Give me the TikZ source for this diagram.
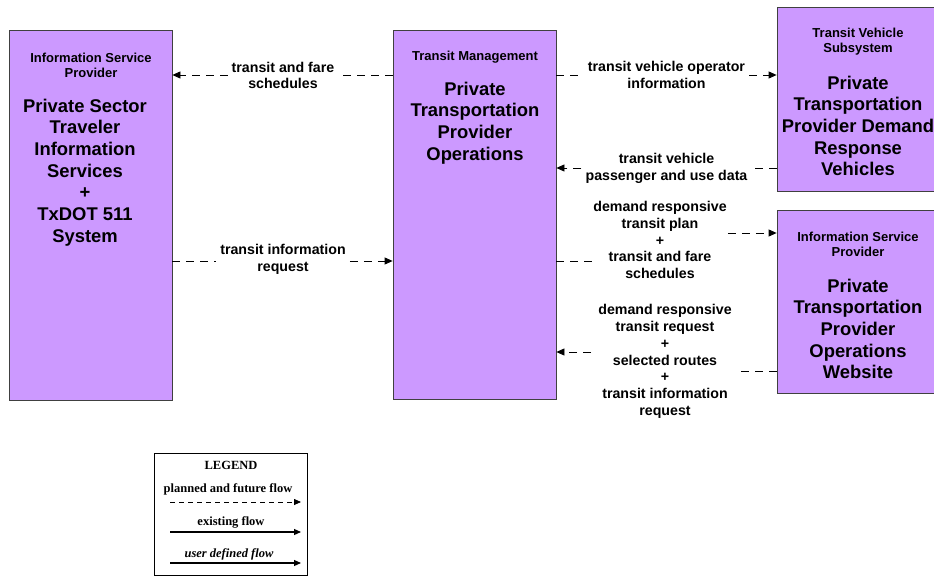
\documentclass[tikz,border=0pt]{standalone}
\usepackage{fontspec}
\setmainfont{Liberation Sans}
\newfontfamily\legfont{Liberation Serif}
\usetikzlibrary{arrows.meta}
\definecolor{boxfill}{RGB}{204,153,255}
\begin{document}
\begin{tikzpicture}[x=1pt,y=-1pt,
  box/.style={draw=black!75, fill=boxfill, line width=0.8pt, minimum width=163pt, inner sep=0pt},
  head/.style={font=\fontsize{13}{15}\selectfont\bfseries, align=center, inner sep=0pt},
  ttl/.style={font=\fontsize{18.4}{21.7}\selectfont\bfseries, align=center, inner sep=0pt},
  lab/.style={font=\fontsize{14.2}{16.8}\selectfont\bfseries, align=center, inner sep=4pt},
  dashline/.style={dash pattern=on 8pt off 6pt, line width=0.8pt},
  flow/.style={dashline, -{Triangle[length=8pt,width=7pt]}},
  legtxt/.style={font=\legfont\fontsize{12.5}{15}\selectfont\bfseries, inner sep=0pt},
]
\useasboundingbox (0,0) rectangle (934,577);

% boxes
\node[box, minimum height=370pt] (isp) at (90.5,215) {};
\node[box, minimum height=369pt] (tm) at (474.5,214.5) {};
\node[box, minimum height=184pt] (tvs) at (858.5,99) {};
\node[box, minimum height=183pt] (web) at (858.5,301.5) {};

% box texts
\node[head] (isph) at (91,65.5) {Information Service\\Provider};
\node[ttl] (ispt) at (85,172.5) {Private Sector\\Traveler\\Information\\Services\\+\\TxDOT 511\\System};
\node[head] (tmh) at (475,57) {Transit Management};
\node[ttl] (tmt) at (475,123) {Private\\Transportation\\Provider\\Operations};
\node[head] (tvsh) at (858,41.5) {Transit Vehicle\\Subsystem};
\node[ttl] (tvst) at (858,126) {Private\\Transportation\\Provider Demand\\Response\\Vehicles};
\node[head] (webh) at (858,244.5) {Information Service\\Provider};
\node[ttl] (webt) at (858,329) {Private\\Transportation\\Provider\\Operations\\Website};

% labels
\node[lab] (l1) at (283,75.5) {transit and fare\\schedules};
\node[lab] (l2) at (283,259.5) {transit information\\request};
\node[lab] (l3) at (666.5,75) {transit vehicle operator\\information};
\node[lab] (l4) at (666.5,168) {transit vehicle\\passenger and use data};
\node[lab, inner xsep=1pt] (l5) at (660,240) {demand responsive\\transit plan\\+\\transit and fare\\schedules};
\node[lab, inner xsep=7pt] (l6) at (665,361.5) {demand responsive\\transit request\\+\\selected routes\\+\\transit information\\request};

% y levels
\coordinate (y1) at (0,75);
\coordinate (y2) at (0,261);
\coordinate (y3) at (0,75);
\coordinate (y4) at (0,168);
\coordinate (y5a) at (0,261);
\coordinate (y5b) at (0,233);
\coordinate (y6a) at (0,352);
\coordinate (y6b) at (0,371);

% connectors
\draw[dashline] (tm.west |- y1) -- (l1.east |- y1);
\draw[flow] (l1.west |- y1) -- (isp.east |- y1);
\draw[dashline] (isp.east |- y2) -- (l2.west |- y2);
\draw[flow] (l2.east |- y2) -- (tm.west |- y2);
\draw[dashline] (tm.east |- y3) -- (l3.west |- y3);
\draw[flow] (l3.east |- y3) -- (tvs.west |- y3);
\draw[dashline] (tvs.west |- y4) -- (l4.east |- y4);
\draw[flow] (l4.west |- y4) -- (tm.east |- y4);
\draw[dashline] (tm.east |- y5a) -- (l5.west |- y5a);
\draw[flow] (l5.east |- y5b) -- (web.west |- y5b);
\draw[dashline] (web.west |- y6b) -- (l6.east |- y6b);
\draw[flow] (l6.west |- y6a) -- (tm.east |- y6a);

% legend
\node[draw, line width=0.9pt, minimum width=153pt, minimum height=122pt, inner sep=0pt] (leg) at (230.5,514) {};
\node[legtxt] (legt) at (231,465) {LEGEND};
\node[legtxt] (leg1) at (228,489) {planned and future flow};
\node[legtxt] (leg2) at (231,522) {existing flow};
\node[legtxt, font=\legfont\fontsize{12.5}{15}\selectfont\bfseries\itshape] (leg3) at (229,554) {user defined flow};
\coordinate (a1s) at (170,502); \coordinate (a1e) at (301,502);
\coordinate (a2s) at (170,532); \coordinate (a2e) at (301,532);
\coordinate (a3s) at (170,563); \coordinate (a3e) at (301,563);
\draw[dash pattern=on 5pt off 4pt, line width=0.8pt, -{Triangle[length=7pt,width=6pt]}] (a1s) -- (a1e);
\draw[line width=1.1pt, -{Triangle[length=7pt,width=6pt]}] (a2s) -- (a2e);
\draw[line width=1.1pt, -{Triangle[length=7pt,width=6pt]}] (a3s) -- (a3e);
\end{tikzpicture}
\end{document}
